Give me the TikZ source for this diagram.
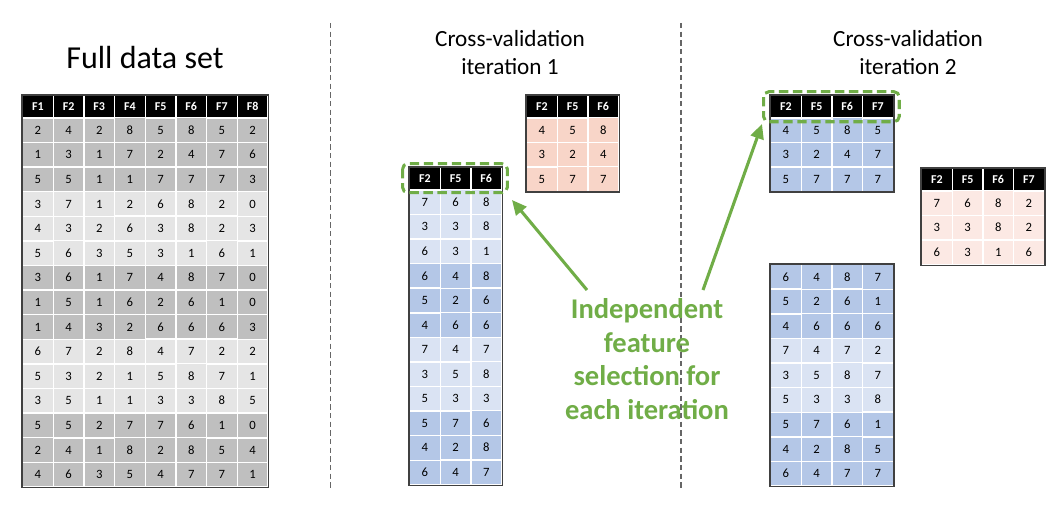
\documentclass[tikz,border=0pt]{standalone}
\usepackage{fontspec}
\setmainfont{Carlito}
\usepackage{xcolor}
\usetikzlibrary{matrix, positioning, arrows.meta}

\definecolor{graydk}{HTML}{BFBFBF}
\definecolor{graylt}{HTML}{E5E5E5}
\definecolor{bluedk}{HTML}{B4C7E7}
\definecolor{bluelt}{HTML}{DAE3F3}
\definecolor{pinkdk}{HTML}{F8D5C8}
\definecolor{pinklt}{HTML}{FCE9E4}
\definecolor{selgreen}{HTML}{70AD47}
\definecolor{frame}{HTML}{404040}

\tikzset{
    cell/.style={draw=white, line width=0.9pt, minimum width=23pt, minimum height=18.3pt, inner sep=0pt, outer sep=0pt, font=\fontsize{9.5}{11}\selectfont},
    table/.style={matrix of nodes, inner sep=0pt, outer sep=0pt, column sep=-0.9pt, row sep=-0.9pt, anchor=north west, nodes={cell, fill=#1}},
    header/.style={row 1/.style={nodes={fill=black, text=white, minimum height=16.5pt, font=\fontsize{9}{11}\selectfont\bfseries}}},
    grayrow/.style={row #1/.style={nodes={fill=graydk}}},
    bluerow/.style={row #1/.style={nodes={fill=bluedk}}},
    outline/.style={draw=frame, line width=1pt},
    selbox/.style={draw=selgreen, line width=2.3pt, dash pattern=on 7pt off 3.5pt, rounded corners=4pt},
    divider/.style={draw=black!60, line width=1.1pt, dash pattern=on 4pt off 2.5pt},
    title/.style={align=center, font=\fontsize{17.4}{21}\selectfont},
    pick/.style={draw=selgreen, line width=2.3pt, -{Triangle[length=11pt, width=10pt]}}
}

\begin{document}
\begin{tikzpicture}[x=0.75pt, y=-0.75pt]
    \useasboundingbox (0,0) rectangle (1058,530);

    % titles
    \node[font=\fontsize{24}{28}\selectfont] (fulltitle) at (145,58) {Full data set};
    \node[title] (title1) at (510,53) {Cross-validation\\iteration 1};
    \node[title] (title2) at (908,53) {Cross-validation\\iteration 2};

    % dashed dividers
    \draw[divider] (330.7,23) -- (330.7,490);
    \draw[divider] (681,23) -- (681,490);

    % full data set
    \matrix (full) [table=graylt, header, grayrow/.list={2,3,4,8,9,10,14,15,16}] at (22,95) {
        F1 & F2 & F3 & F4 & F5 & F6 & F7 & F8 \\
        2 & 4 & 2 & 8 & 5 & 8 & 5 & 2 \\
        1 & 3 & 1 & 7 & 2 & 4 & 7 & 6 \\
        5 & 5 & 1 & 1 & 7 & 7 & 7 & 3 \\
        3 & 7 & 1 & 2 & 6 & 8 & 2 & 0 \\
        4 & 3 & 2 & 6 & 3 & 8 & 2 & 3 \\
        5 & 6 & 3 & 5 & 3 & 1 & 6 & 1 \\
        3 & 6 & 1 & 7 & 4 & 8 & 7 & 0 \\
        1 & 5 & 1 & 6 & 2 & 6 & 1 & 0 \\
        1 & 4 & 3 & 2 & 6 & 6 & 6 & 3 \\
        6 & 7 & 2 & 8 & 4 & 7 & 2 & 2 \\
        5 & 3 & 2 & 1 & 5 & 8 & 7 & 1 \\
        3 & 5 & 1 & 1 & 3 & 3 & 8 & 5 \\
        5 & 5 & 2 & 7 & 7 & 6 & 1 & 0 \\
        2 & 4 & 1 & 8 & 2 & 8 & 5 & 4 \\
        4 & 6 & 3 & 5 & 4 & 7 & 7 & 1 \\
    };
    \draw[outline] (full.north west) rectangle (full.south east);

    % iteration 1: test rows
    \matrix (test1) [table=pinkdk, header] at (526,95) {
        F2 & F5 & F6 \\
        4 & 5 & 8 \\
        3 & 2 & 4 \\
        5 & 7 & 7 \\
    };
    \draw[outline] (test1.north west) rectangle (test1.south east);

    % iteration 1: training rows
    \matrix (train1) [table=bluelt, header, bluerow/.list={5,6,7,11,12,13}] at (409,167) {
        F2 & F5 & F6 \\
        7 & 6 & 8 \\
        3 & 3 & 8 \\
        6 & 3 & 1 \\
        6 & 4 & 8 \\
        5 & 2 & 6 \\
        4 & 6 & 6 \\
        7 & 4 & 7 \\
        3 & 5 & 8 \\
        5 & 3 & 3 \\
        5 & 7 & 6 \\
        4 & 2 & 8 \\
        6 & 4 & 7 \\
    };
    \draw[outline] (train1.north west) rectangle (train1.south east);
    \draw[selbox] ([xshift=-5.3pt, yshift=3pt]train1-1-1.north west) rectangle ([xshift=4.3pt, yshift=-2.3pt]train1-1-3.south east);

    % iteration 2: training rows (top)
    \matrix (trainA2) [table=bluedk, header] at (770,95) {
        F2 & F5 & F6 & F7 \\
        4 & 5 & 8 & 5 \\
        3 & 2 & 4 & 7 \\
        5 & 7 & 7 & 7 \\
    };
    \draw[outline] (trainA2.north west) rectangle (trainA2.south east);
    \draw[selbox] ([xshift=-5.3pt, yshift=3pt]trainA2-1-1.north west) rectangle ([xshift=4.5pt, yshift=-3pt]trainA2-1-4.south east);

    % iteration 2: test rows
    \matrix (test2) [table=pinklt, header] at (921,168) {
        F2 & F5 & F6 & F7 \\
        7 & 6 & 8 & 2 \\
        3 & 3 & 8 & 2 \\
        6 & 3 & 1 & 6 \\
    };
    \draw[outline] (test2.north west) rectangle (test2.south east);

    % iteration 2: training rows (bottom)
    \matrix (trainB2) [table=bluelt, bluerow/.list={1,2,3,7,8,9}] at (770,264) {
        6 & 4 & 8 & 7 \\
        5 & 2 & 6 & 1 \\
        4 & 6 & 6 & 6 \\
        7 & 4 & 7 & 2 \\
        3 & 5 & 8 & 7 \\
        5 & 3 & 3 & 8 \\
        5 & 7 & 6 & 1 \\
        4 & 2 & 8 & 5 \\
        6 & 4 & 7 & 7 \\
    };
    \draw[outline] (trainB2.north west) rectangle (trainB2.south east);

    % note and arrows
    \node[align=center, text=selgreen, inner sep=0pt, font=\fontsize{21.4}{25.3}\selectfont\bfseries] (note) at (647,359)
        {Independent\\feature\\selection for\\each iteration};
    \coordinate (tip1) at (512,200);
    \coordinate (tip2) at (762,124);
    \draw[pick] ([xshift=-45pt, yshift=6pt]note.north) -- (tip1);
    \draw[pick] ([xshift=42pt, yshift=6pt]note.north) -- (tip2);
\end{tikzpicture}
\end{document}
